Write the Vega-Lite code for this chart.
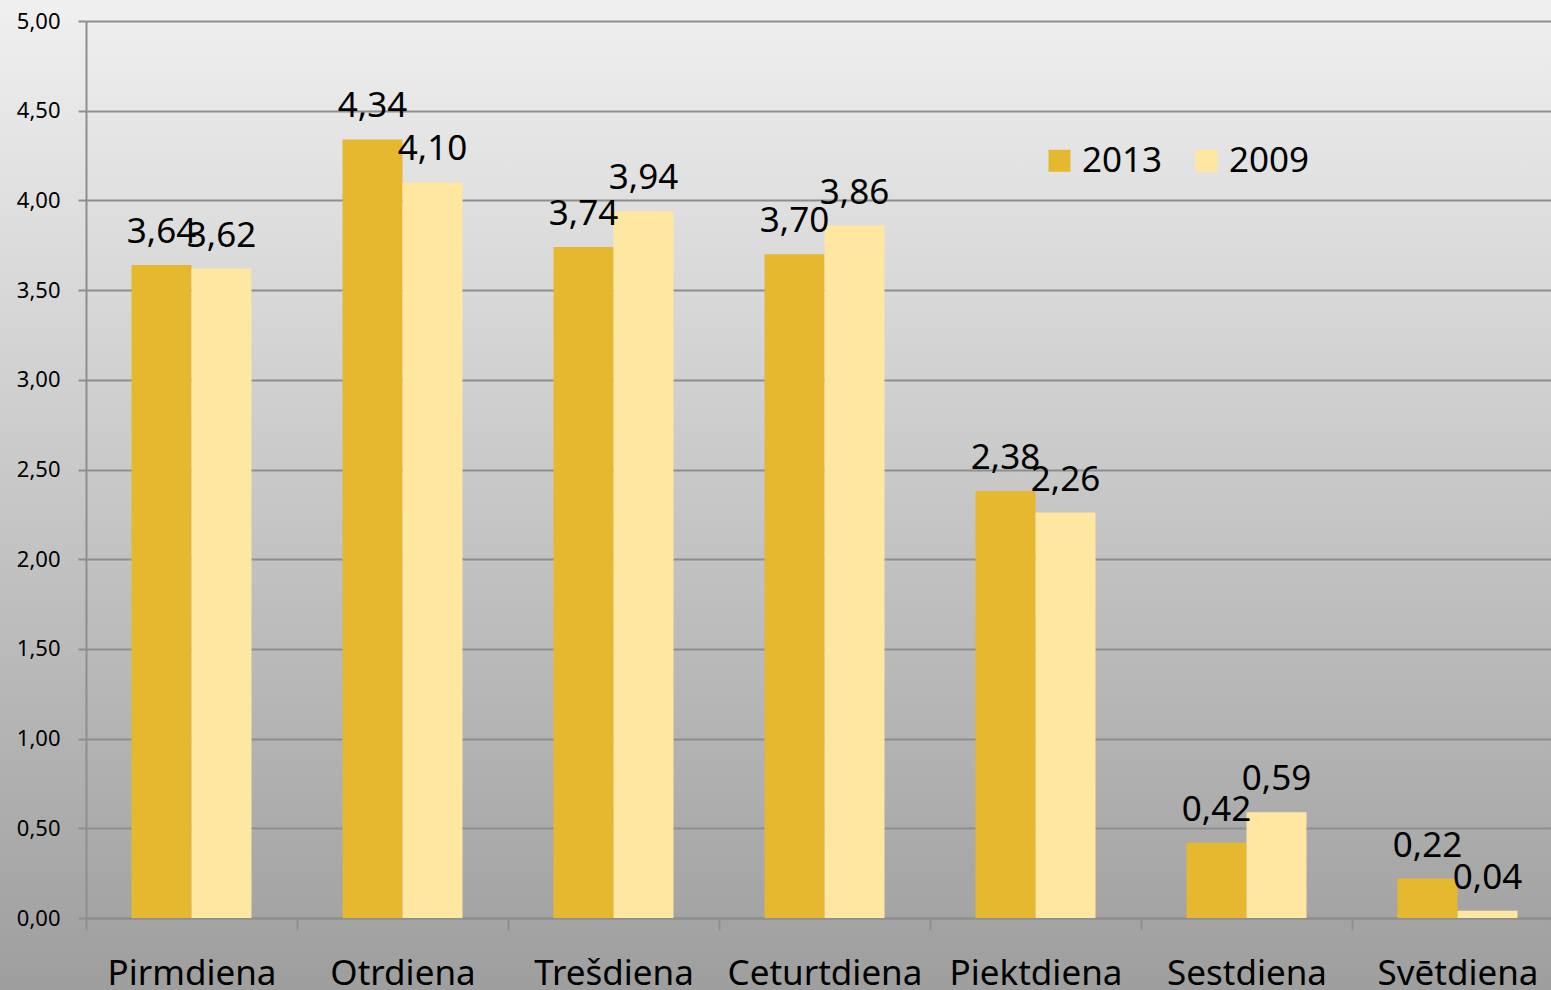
{
  "$schema": "https://vega.github.io/schema/vega-lite/v6.json",
  "width": 1551,
  "height": 990,
  "autosize": {"type": "none"},
  "padding": 0,
  "background": "#c4c4c4",
  "config": {
    "locale": {"number": {"decimal": ",", "thousands": " ", "grouping": [3], "currency": ["", " €"]}},
    "font": "Noto Sans",
    "view": {
      "stroke": null,
      "fill": {
        "gradient": "linear",
        "x1": 0, "y1": 0, "x2": 0, "y2": 1,
        "stops": [
          {"offset": 0, "color": "#f0f0f0"},
          {"offset": 1, "color": "#9e9e9e"}
        ]
      }
    }
  },
  "data": {
    "values": [
      {"day": "Pirmdiena", "year": "2013", "value": 3.64},
      {"day": "Pirmdiena", "year": "2009", "value": 3.62},
      {"day": "Otrdiena", "year": "2013", "value": 4.34},
      {"day": "Otrdiena", "year": "2009", "value": 4.10},
      {"day": "Trešdiena", "year": "2013", "value": 3.74},
      {"day": "Trešdiena", "year": "2009", "value": 3.94},
      {"day": "Ceturtdiena", "year": "2013", "value": 3.70},
      {"day": "Ceturtdiena", "year": "2009", "value": 3.86},
      {"day": "Piektdiena", "year": "2013", "value": 2.38},
      {"day": "Piektdiena", "year": "2009", "value": 2.26},
      {"day": "Sestdiena", "year": "2013", "value": 0.42},
      {"day": "Sestdiena", "year": "2009", "value": 0.59},
      {"day": "Svētdiena", "year": "2013", "value": 0.22},
      {"day": "Svētdiena", "year": "2009", "value": 0.04}
    ]
  },
  "encoding": {
    "x": {
      "field": "day",
      "type": "nominal",
      "sort": ["Pirmdiena", "Otrdiena", "Trešdiena", "Ceturtdiena", "Piektdiena", "Sestdiena", "Svētdiena"],
      "scale": {"range": [86, 1563], "paddingInner": 0, "paddingOuter": 0},
      "axis": {
        "title": null,
        "offset": -72,
        "labelAngle": 0,
        "labelFontSize": 35,
        "labelColor": "#000000",
        "labelPadding": 26,
        "labelLimit": 0,
        "tickBand": "extent",
        "tickSize": 12,
        "tickWidth": 2,
        "tickColor": "#8e8e8e",
        "domainColor": "#8e8e8e",
        "domainWidth": 2
      }
    },
    "xOffset": {
      "field": "year",
      "type": "nominal",
      "sort": ["2013", "2009"],
      "scale": {"paddingInner": 0, "paddingOuter": 0.7583}
    },
    "y": {
      "field": "value",
      "type": "quantitative",
      "scale": {"domain": [0, 5], "range": [918, 21], "nice": false},
      "axis": {
        "title": null,
        "offset": -86,
        "values": [0, 0.5, 1, 1.5, 2, 2.5, 3, 3.5, 4, 4.5, 5],
        "format": ".2f",
        "labelFontSize": 22,
        "labelColor": "#000000",
        "labelPadding": 18,
        "tickSize": 8,
        "tickWidth": 2,
        "tickColor": "#8e8e8e",
        "domainColor": "#8e8e8e",
        "domainWidth": 2,
        "grid": true,
        "gridColor": "#8e8e8e",
        "gridWidth": 2
      }
    }
  },
  "layer": [
    {
      "mark": {"type": "bar"},
      "encoding": {
        "color": {
          "field": "year",
          "type": "nominal",
          "scale": {"domain": ["2013", "2009"], "range": ["#E6B82F", "#FFE6A1"]},
          "legend": {
            "title": null,
            "orient": "none",
            "legendX": 1042,
            "legendY": 143,
            "direction": "horizontal",
            "symbolType": "square",
            "symbolSize": 484,
            "symbolStrokeWidth": 0,
            "symbolOpacity": 1,
            "labelFontSize": 35,
            "labelColor": "#000000",
            "labelOffset": 5,
            "columnPadding": 26
          }
        }
      }
    },
    {
      "mark": {"type": "text", "baseline": "alphabetic", "dy": -22, "fontSize": 35, "color": "#000000"},
      "encoding": {
        "text": {"field": "value", "type": "quantitative", "format": ".2f"}
      }
    }
  ]
}
